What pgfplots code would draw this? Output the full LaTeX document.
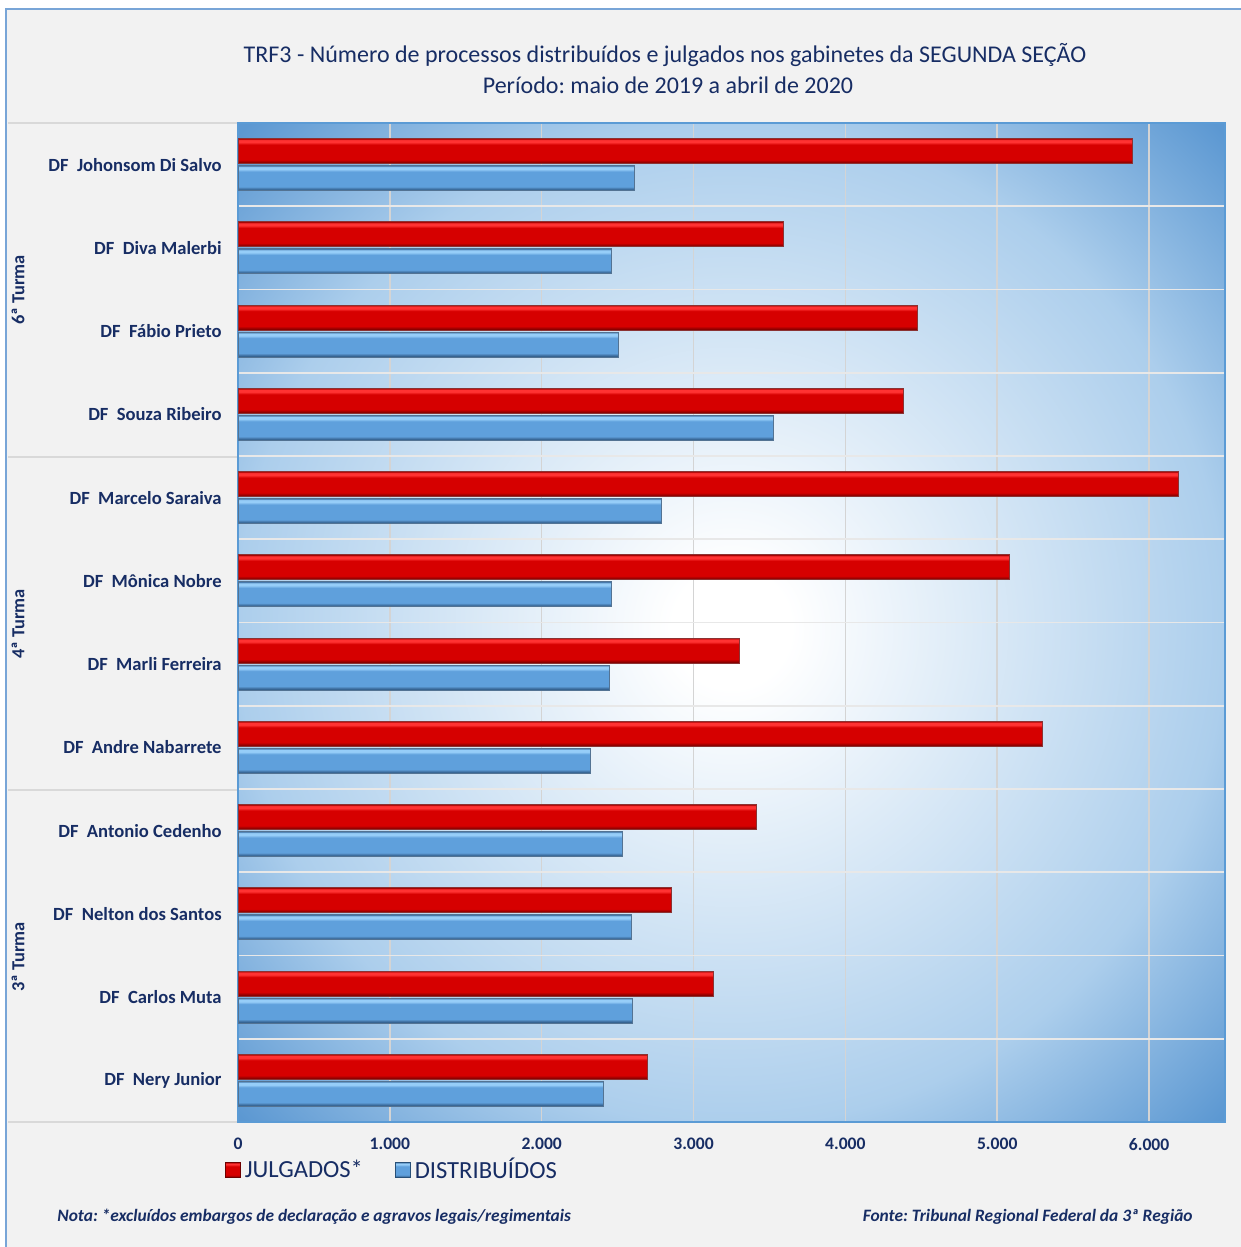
\documentclass[border=0pt]{standalone}
\usepackage{pgfplots}
\pgfplotsset{compat=1.18}
\usepackage{fontspec}
\setmainfont{Carlito}
\frenchspacing
\definecolor{navy}{RGB}{23,45,100}
\definecolor{bgpage}{RGB}{242,242,242}
\definecolor{framebl}{RGB}{120,165,215}
\definecolor{edgebl}{RGB}{91,155,213}
\definecolor{bgmid}{RGB}{172,206,236}
\definecolor{bgedge}{RGB}{92,152,210}
\definecolor{rdark}{RGB}{110,0,0}
\definecolor{rdk2}{RGB}{160,0,0}
\definecolor{rmain}{RGB}{214,0,0}
\definecolor{rlight}{RGB}{255,50,50}
\definecolor{bdark}{RGB}{40,80,120}
\definecolor{bdk2}{RGB}{65,115,165}
\definecolor{bmain}{RGB}{95,160,220}
\definecolor{blight}{RGB}{150,205,248}
\pgfdeclareradialshading{plotbg}{\pgfpoint{0bp}{-0.3bp}}{color(0bp)=(white); color(3bp)=(white); color(25bp)=(bgmid); color(35bp)=(bgedge); color(50bp)=(bgedge)}
\pgfdeclareverticalshading{redbar}{100bp}{color(0bp)=(rdark); color(25bp)=(rdark); color(29bp)=(rdk2); color(33bp)=(rmain); color(63bp)=(rmain); color(68bp)=(rlight); color(72bp)=(rlight); color(75bp)=(rdk2); color(100bp)=(rdk2)}
\pgfdeclareverticalshading{bluebar}{100bp}{color(0bp)=(bdark); color(25bp)=(bdark); color(29bp)=(bdk2); color(33bp)=(bmain); color(63bp)=(bmain); color(68bp)=(blight); color(72bp)=(blight); color(75bp)=(bdk2); color(100bp)=(bdk2)}
\pgfplotsset{
  julg/.style={xbar, bar width=12.5pt, bar shift=6.75pt, draw=rdark!80, line width=0.4pt, shade, shading=redbar, forget plot},
  dist/.style={xbar, bar width=12.5pt, bar shift=-6.75pt, draw=bdark!80, line width=0.4pt, shade, shading=bluebar, forget plot},
}
\newcommand\jbar[2]{\addplot[julg] coordinates {(#1,#2)};}
\newcommand\dbar[2]{\addplot[dist] coordinates {(#1,#2)};}
\begin{document}
\begin{tikzpicture}
\begin{scope}[x=0.5pt,y=-0.5pt]
\useasboundingbox (0,0) rectangle (1241,1247);
\fill[white] (0,0) rectangle (1241,1247);
\fill[bgpage] (6,9) rectangle (1241,1247);
\draw[framebl,line width=0.8pt] (6,1247) -- (6,9) -- (1241,9);
\foreach \yy in {123,457,790,1122} \draw[gray!30,line width=0.8pt] (8,\yy) -- (238,\yy);
\node[navy,font=\fontsize{12}{14}\selectfont] at (665,55) {TRF3 - Número de processos distribuídos e julgados nos gabinetes da SEGUNDA SEÇÃO};
\node[navy,font=\fontsize{12}{14}\selectfont] at (668,85) {Período: maio de 2019 a abril de 2020};
\node[navy,rotate=90,font=\bfseries\fontsize{9.2}{10}\selectfont] at (18,290) {6ª Turma};
\node[navy,rotate=90,font=\bfseries\fontsize{9.2}{10}\selectfont] at (18,624) {4ª Turma};
\node[navy,rotate=90,font=\bfseries\fontsize{9.2}{10}\selectfont] at (18,957) {3ª Turma};
\node[navy,anchor=west,inner sep=0pt,font=\bfseries\itshape\fontsize{8.7}{10}\selectfont] at (57,1217) {Nota: *excluídos embargos de declaração e agravos legais/regimentais};
\node[navy,anchor=east,inner sep=0pt,font=\bfseries\itshape\fontsize{8.7}{10}\selectfont] at (1193,1217) {Fonte: Tribunal Regional Federal da 3ª Região};
\end{scope}
\begin{axis}[
  at={(119pt,-561pt)}, anchor=south west,
  width=493.5pt, height=499.5pt, scale only axis,
  xmin=0, xmax=6500, ymin=-0.5, ymax=11.5,
  xtick={0,1000,2000,3000,4000,5000,6000},
  xticklabels={\textbf{0},\textbf{1.000},\textbf{2.000},\textbf{3.000},\textbf{4.000},\textbf{5.000},\textbf{6.000}},
  ytick={0,...,11},
  yticklabels={DF~~Nery Junior,DF~~Carlos Muta,DF~~Nelton dos Santos,DF~~Antonio Cedenho,DF~~Andre Nabarrete,DF~~Marli Ferreira,DF~~Mônica Nobre,DF~~Marcelo Saraiva,DF~~Souza Ribeiro,DF~~Fábio Prieto,DF~~Diva Malerbi,DF~~Johonsom Di Salvo},
  minor ytick={0.5,1.5,...,10.5},
  xmajorgrids, yminorgrids,
  major grid style={draw=black!17,line width=0.8pt},
  minor grid style={draw=white!82!gray,line width=0.8pt},
  tick style={draw=none},
  axis line style={draw=edgebl,line width=0.8pt},
  axis background/.style={shade,shading=plotbg},
  xticklabel style={navy,font=\bfseries\fontsize{8.8}{10}\selectfont,inner sep=0pt,yshift=-8pt},
  yticklabel style={navy,font=\bfseries\fontsize{9.3}{10}\selectfont,inner sep=0pt,xshift=-8pt},
  legend columns=2,
  legend style={at={(0.157,-0.048)},anchor=center,draw=none,fill=none,
    font=\fontsize{12.3}{14}\selectfont,text=navy,
    /tikz/every even column/.append style={column sep=14pt}},
  legend cell align=left,
]
% JULGADOS*
\jbar{5888}{11} \jbar{3592}{10} \jbar{4474}{9} \jbar{4382}{8}
\jbar{6191}{7} \jbar{5079}{6} \jbar{3303}{5} \jbar{5296}{4}
\jbar{3414}{3} \jbar{2855}{2} \jbar{3132}{1} \jbar{2697}{0}
% DISTRIBUIDOS
\dbar{2612}{11} \dbar{2461}{10} \dbar{2507}{9} \dbar{3526}{8}
\dbar{2789}{7} \dbar{2461}{6} \dbar{2447}{5} \dbar{2322}{4}
\dbar{2533}{3} \dbar{2592}{2} \dbar{2599}{1} \dbar{2408}{0}
\addlegendimage{legend image code/.code={\draw[draw=rdark,shade,shading=redbar] (0pt,-3.75pt) rectangle (7.5pt,3.75pt);}}
\addlegendentry{JULGADOS*}
\addlegendimage{legend image code/.code={\draw[draw=bdark,shade,shading=bluebar] (0pt,-3.75pt) rectangle (7.5pt,3.75pt);}}
\addlegendentry{DISTRIBUÍDOS}
\end{axis}
\end{tikzpicture}
\end{document}
